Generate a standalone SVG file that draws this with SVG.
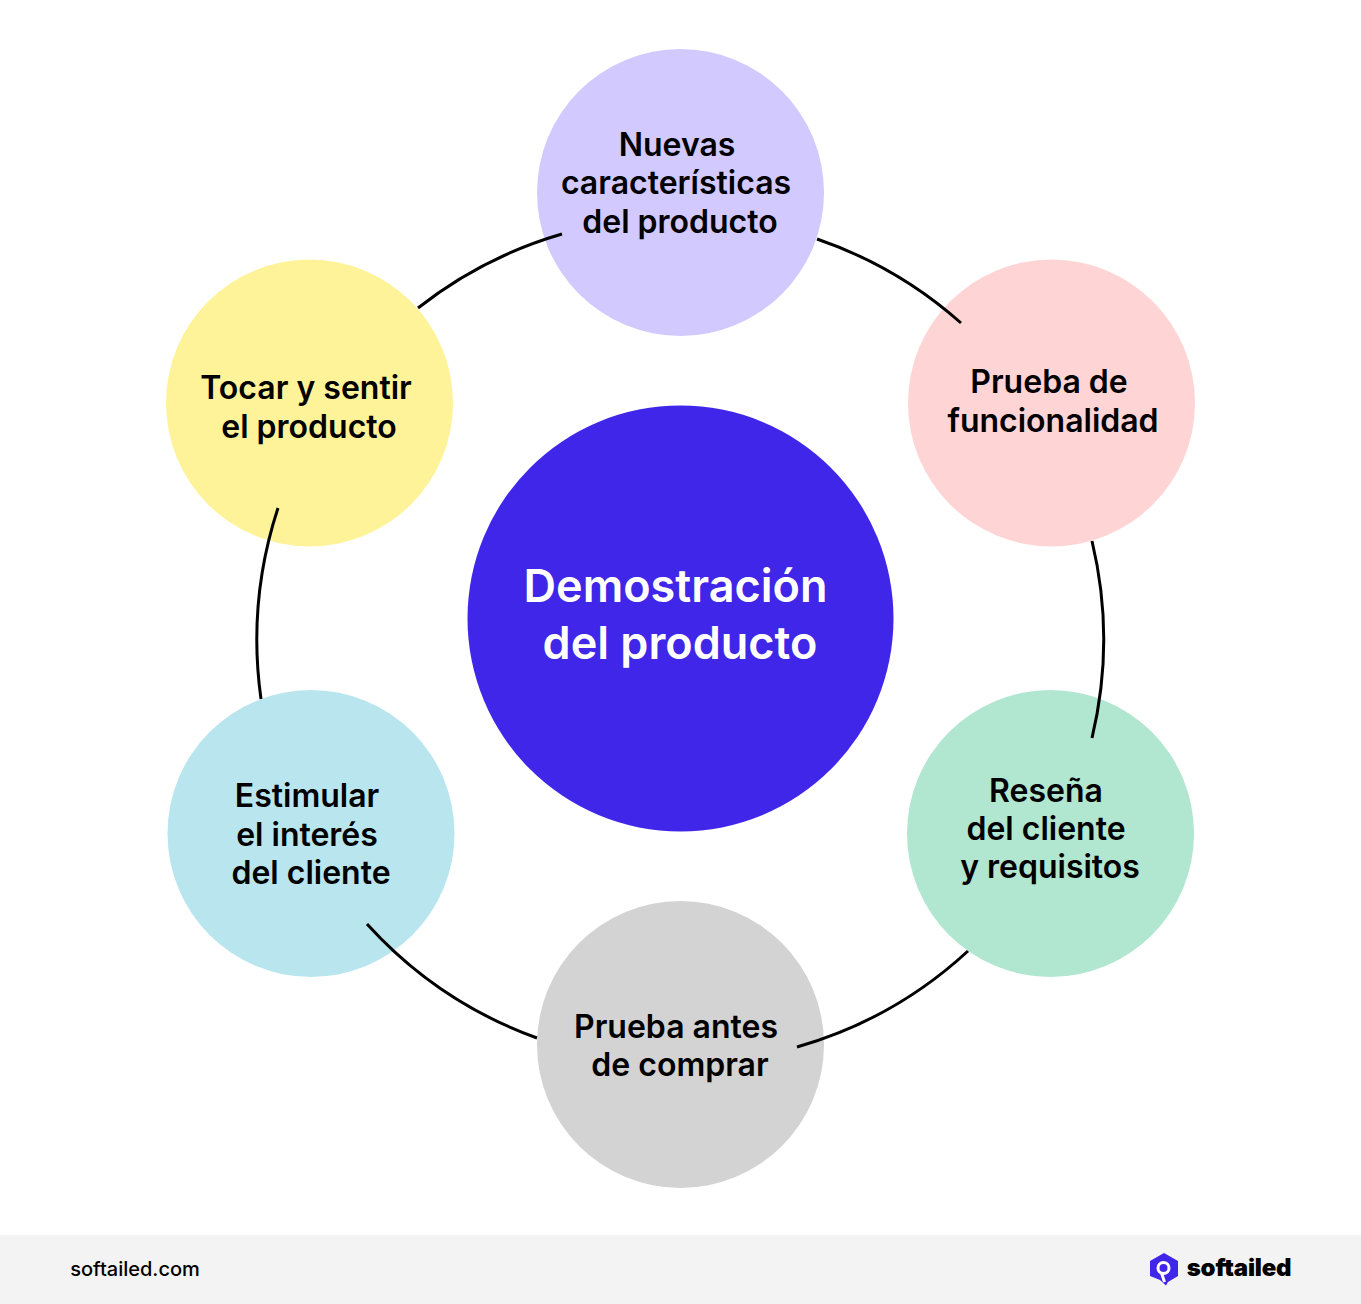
<svg xmlns="http://www.w3.org/2000/svg" width="1361" height="1304" viewBox="0 0 1361 1304">
<style>
text{font-family:Inter,"Liberation Sans",sans-serif;text-anchor:middle;fill:#000;font-weight:600;font-size:32px}
.c{fill:none;stroke:#000;stroke-width:3}
</style>
<rect width="1361" height="1304" fill="#fff"/>
<rect x="0" y="1235" width="1361" height="69" fill="#f3f3f3"/>
<g id="center"><circle cx="680.500" cy="618.500" r="213" fill="#3f26e9"/><text x="675.500" y="601.500" style="font-size:45px;fill:#fff">Demostración</text><text x="680" y="658.500" style="font-size:45px;fill:#fff">del producto</text></g>
<g id="n1"><circle cx="680.500" cy="192.500" r="143.500" fill="#d2c9ff"/><text x="677" y="155.500">Nuevas</text><text x="676" y="193.500">características</text><text x="680" y="232.500">del producto</text></g>
<g id="n2"><circle cx="1051.500" cy="403" r="143.500" fill="#ffd4d4"/><text x="1049" y="392.500">Prueba de</text><text x="1053" y="431.500">funcionalidad</text></g>
<g id="n3"><circle cx="1050.500" cy="833.500" r="143.500" fill="#b1e6d0"/><text x="1046" y="802">Reseña</text><text x="1046" y="840">del cliente</text><text x="1050" y="878">y requisitos</text></g>
<g id="n4"><circle cx="680.500" cy="1044.500" r="143.500" fill="#d3d3d3"/><text x="676" y="1038">Prueba antes</text><text x="680" y="1076">de comprar</text></g>
<g id="n5"><circle cx="311" cy="833.500" r="143.500" fill="#b9e6ee"/><text x="307" y="807">Estimular</text><text x="307" y="846">el interés</text><text x="311" y="884">del cliente</text></g>
<g id="n6"><circle cx="309.500" cy="403" r="143.500" fill="#fff399"/><text x="306" y="399">Tocar y sentir</text><text x="309" y="438">el producto</text></g>
<g id="connectors">
<path class="c" d="M817 239A423.500 423.500 0 0 1 961 323"/>
<path class="c" d="M1092 541A423.500 423.500 0 0 1 1092 738"/>
<path class="c" d="M968 951A423.500 423.500 0 0 1 797 1047"/>
<path class="c" d="M537 1038A423.500 423.500 0 0 1 367 924"/>
<path class="c" d="M261 699A423.500 423.500 0 0 1 278 508"/>
<path class="c" d="M418 308A423.500 423.500 0 0 1 562 234"/>
</g>
<g id="footer"><text x="135" y="1275.500" style="font-size:20px;font-weight:500">softailed.com</text>
<path d="M1164 1253L1178 1261V1276L1168 1282L1166 1285.500L1160 1280L1150 1276V1261Z" fill="#3f26e9"/><circle cx="1163.500" cy="1268" r="5.500" fill="none" stroke="#fff" stroke-width="3"/><path d="M1161.500 1273L1164.500 1282" fill="none" stroke="#fff" stroke-width="3"/>
<text x="1239" y="1276" style="font-size:24px;font-weight:900;letter-spacing:-0.2px">softailed</text></g>
</svg>
